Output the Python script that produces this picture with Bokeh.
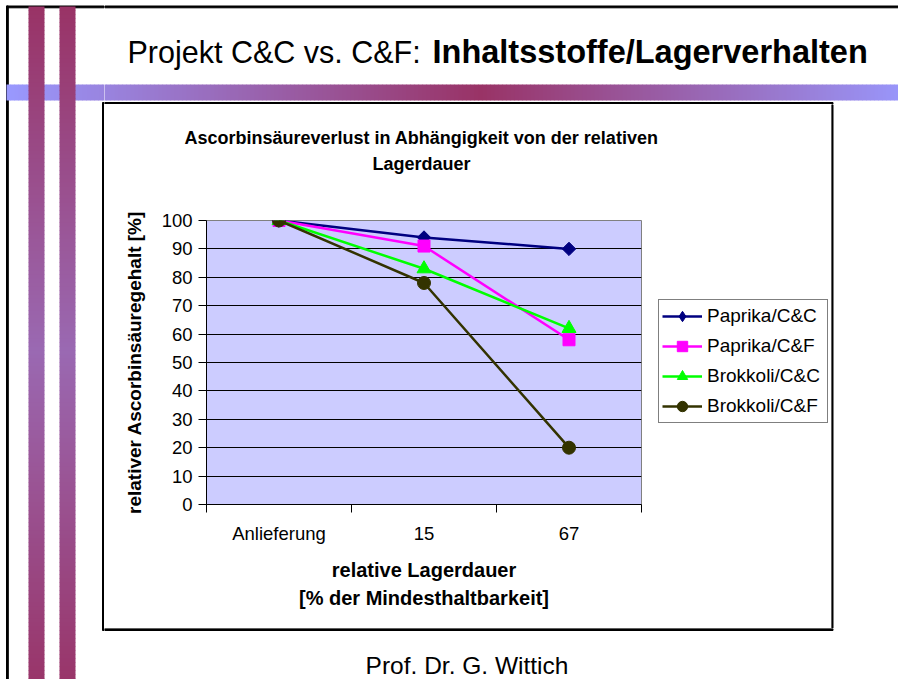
import numpy as np
from bokeh.plotting import figure
from bokeh.models import Range1d, Label, FixedTicker, Legend, LegendItem, ColumnDataSource
from bokeh.layouts import row, column
from bokeh.embed import file_html
from bokeh.resources import INLINE

# ---------------- data ----------------
categories = ["Anlieferung", "15", "67"]
paprika_cc = [100, 94, 90]
paprika_cf = [100, 91, 58]
brokkoli_cc = [100, 83, 62]
brokkoli_cf = [100, 78, 20]
series_names = ["Paprika/C&C", "Paprika/C&F", "Brokkoli/C&C", "Brokkoli/C&F"]
y_ticks = [0, 10, 20, 30, 40, 50, 60, 70, 80, 90, 100]

slide_title_regular = "Projekt C&C vs. C&F:"
slide_title_bold = "Inhaltsstoffe/Lagerverhalten"
chart_title_lines = ["Ascorbinsäureverlust in Abhängigkeit von der relativen", "Lagerdauer"]
y_label = "relativer Ascorbinsäuregehalt [%]"
x_label = "relative Lagerdauer\n[% der Mindesthaltbarkeit]"
footer = "Prof. Dr. G. Wittich"

FONT = "Liberation Sans"
W, H = 898, 679

# ---------------- helpers for the slide decoration ----------------
maroon = (153, 51, 102)
light = (153, 153, 255)
mid_v = (154, 105, 178)


def lerp(c1, c2, t):
    t = min(max(t, 0.0), 1.0)
    return "#%02x%02x%02x" % tuple(int(round(a + (b - a) * t)) for a, b in zip(c1, c2))


def deco_fig(x0, x1, y0, y1):
    f = figure(width=x1 - x0, height=y1 - y0,
               x_range=Range1d(x0, x1), y_range=Range1d(y1, y0),
               output_backend="svg", toolbar_location=None,
               x_axis_location=None, y_axis_location=None,
               min_border=0, outline_line_color=None,
               background_fill_color="white", border_fill_color="white")
    f.grid.visible = False
    return f


STEP = 4
cx = 480.0
band_l, band_r, band_c = [], [], []
for x0 in range(6, W, STEP):
    xc = x0 + STEP / 2
    t = (cx - xc) / (cx - 6) if xc < cx else (xc - cx) / (914 - cx)
    band_l.append(x0)
    band_r.append(x0 + STEP + 0.5)
    band_c.append(lerp(maroon, light, t))
band_src = dict(left=band_l, right=band_r, top=[84] * len(band_l), bottom=[100] * len(band_l),
                color=band_c)

cy = 350.0
bar_l, bar_r, bar_t, bar_b, bar_c = [], [], [], [], []
for (bl, br) in [(28, 44), (59, 75)]:
    for y0 in range(6, H, STEP):
        yc = y0 + STEP / 2
        t = (yc - 6) / (cy - 6) if yc < cy else (695 - yc) / (695 - cy)
        bar_l.append(bl)
        bar_r.append(br)
        bar_t.append(y0)
        bar_b.append(y0 + STEP + 0.5)
        bar_c.append(lerp(maroon, mid_v, t))
bar_src = dict(left=bar_l, right=bar_r, top=bar_t, bottom=bar_b, color=bar_c)

BOX = dict(l=102, r=832.5, t=102, b=630)


def label(fig, x, y, text, size, bold=False, align="left"):
    fig.add_layout(Label(x=x, y=y, text=text, text_font=FONT, text_font_size=size,
                         text_font_style="bold" if bold else "normal",
                         text_baseline="middle", text_align=align, text_color="black"))


# ---- left strip (bars) ----
L = deco_fig(0, 104, 0, H)
L.quad(left=[6, 6], right=[7.8, 104], top=[5.5, 5.5], bottom=[H, 7.3], color="black")
L.quad(source=ColumnDataSource(band_src), left="left", right="right", top="top",
       bottom="bottom", fill_color="color", line_color=None)
L.quad(source=ColumnDataSource(bar_src), left="left", right="right", top="top",
       bottom="bottom", fill_color="color", line_color=None)
L.quad(left=[BOX["l"]], right=[104], top=[BOX["t"]], bottom=[BOX["b"]], color="black")

# ---- top strip (slide title + band) ----
T = deco_fig(104, W, 0, 104)
T.quad(left=[104], right=[W], top=[5.5], bottom=[7.3], color="black")
T.quad(source=ColumnDataSource(band_src), left="left", right="right", top="top",
       bottom="bottom", fill_color="color", line_color=None)
T.quad(left=[104], right=[BOX["r"]], top=[BOX["t"]], bottom=[104], color="black")
label(T, 127, 51, slide_title_regular, "30.5px")
label(T, 432, 51, slide_title_bold, "32.5px", bold=True)

# ---- chart title strip ----
CT = deco_fig(104, 831, 104, 190)
label(CT, 421, 137, chart_title_lines[0], "18px", bold=True, align="center")
label(CT, 421, 163, chart_title_lines[1], "18px", bold=True, align="center")

# ---- chart ----
xs = [i + 0.5 for i in range(len(categories))]
bounds = [float(i) for i in range(len(categories) + 1)]

p = figure(width=542, height=438,
           x_range=Range1d(0, len(categories)), y_range=Range1d(0, 100),
           output_backend="svg", toolbar_location=None,
           min_border_left=102, min_border_right=5,
           min_border_top=30, min_border_bottom=124,
           background_fill_color="#ccccff", border_fill_color="white",
           outline_line_color="#808080", outline_line_width=1)

p.xaxis.ticker = FixedTicker(ticks=xs, minor_ticks=bounds)
p.xaxis.major_label_overrides = {x: c for x, c in zip(xs, categories)}
p.xaxis.major_tick_out = 0
p.xaxis.major_tick_in = 0
p.xaxis.minor_tick_out = 8
p.xaxis.minor_tick_in = 0
p.xaxis.minor_tick_line_color = "black"
p.xaxis.major_label_standoff = 10
p.xaxis.axis_label = x_label
p.xaxis.axis_label_standoff = 12
p.xaxis.axis_label_text_line_height = 1.3
p.xaxis.axis_label_text_font_size = "20px"

p.yaxis.ticker = FixedTicker(ticks=y_ticks)
p.yaxis.major_tick_out = 8
p.yaxis.major_tick_in = 0
p.yaxis.major_label_standoff = 6
p.yaxis.axis_label = y_label
p.yaxis.axis_label_standoff = 14
p.yaxis.axis_label_text_font_size = "19px"

for ax in (p.xaxis[0], p.yaxis[0]):
    ax.axis_line_color = "black"
    ax.major_tick_line_color = "black"
    ax.major_label_text_font = FONT
    ax.major_label_text_font_size = "18.5px"
    ax.major_label_text_color = "black"
    ax.axis_label_text_font = FONT
    ax.axis_label_text_font_style = "bold"
    ax.axis_label_text_color = "black"

p.xgrid.visible = False
p.ygrid.ticker = FixedTicker(ticks=y_ticks)
p.ygrid.grid_line_color = "black"
p.ygrid.grid_line_width = 1

values = [paprika_cc, paprika_cf, brokkoli_cc, brokkoli_cf]
colors = ["#000080", "#ff00ff", "#00ff00", "#333300"]
markers = ["square", "square", "triangle", "circle"]
sizes = [9.5, 12, 14, 13]
angles = [np.pi / 4, 0, 0, 0]
legend_markers = ["diamond", "square", "triangle", "circle"]
legend_sizes = [15, 12, 14, 13]
for vals, col, mk, sz, ang in zip(values, colors, markers, sizes, angles):
    p.line(xs, vals, line_color=col, line_width=2.5)
    p.scatter(xs, vals, marker=mk, size=sz, angle=ang, fill_color=col, line_color=col)

# ---- legend panel (legend keys only, next to the chart) ----
LG = deco_fig(646, 831, 190, 628)
items = []
for name, col, lmk, lsz in zip(series_names, colors, legend_markers, legend_sizes):
    # key-only renderers: a single undefined point, nothing is drawn in the panel itself
    lr = LG.line([np.nan], [np.nan], line_color=col, line_width=2.5)
    gr = LG.scatter([np.nan], [np.nan], marker=lmk, size=lsz, fill_color=col, line_color=col)
    items.append(LegendItem(label=name, renderers=[lr, gr]))

lg = Legend(items=items, location=(12, 205))
lg.label_text_font = FONT
lg.label_text_font_size = "19px"
lg.label_text_color = "black"
lg.glyph_width = 40
lg.glyph_height = 26
lg.label_height = 26
lg.label_width = 117
lg.label_standoff = 5
lg.spacing = 4
lg.padding = 3
lg.margin = 0
lg.border_line_color = "black"
lg.border_line_width = 1.5
lg.background_fill_color = "white"
lg.background_fill_alpha = 1
LG.add_layout(lg)

# ---- right strip ----
R = deco_fig(831, W, 104, 628)
R.quad(left=[831], right=[BOX["r"]], top=[104], bottom=[628], color="black")

# ---- bottom strip (footer) ----
B = deco_fig(104, W, 628, H)
B.quad(left=[104], right=[BOX["r"]], top=[628], bottom=[BOX["b"]], color="black")
label(B, 466.5, 665, footer, "24.5px", align="center")

chart_block = column(CT, row(column(p), column(LG)))
layout = row(L, column(T, row(chart_block, R), B))
open("out.html", "w").write(file_html(layout, INLINE))
